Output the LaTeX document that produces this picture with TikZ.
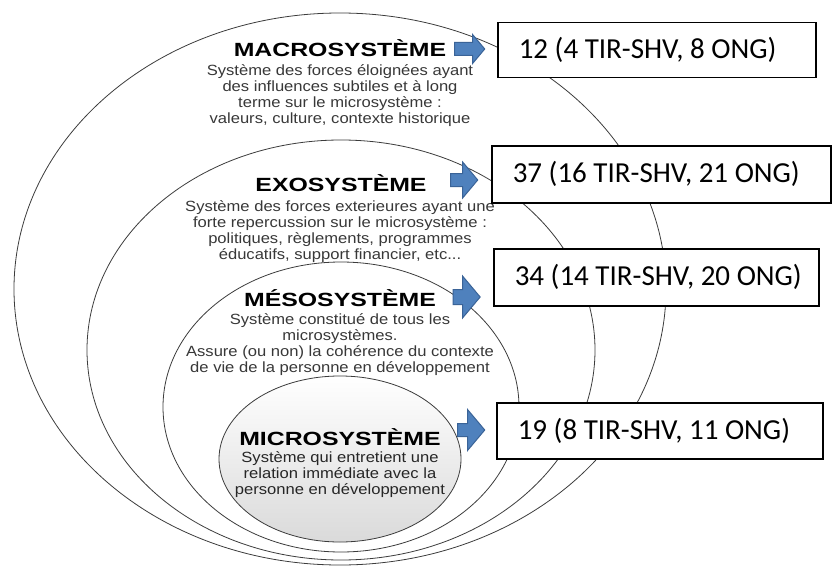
\documentclass[tikz,border=0pt]{standalone}
\usepackage{fontspec}
\setmainfont{Liberation Sans}
\newfontfamily\titlefont[FakeStretch=1.3]{Liberation Sans}
\newfontfamily\descfont[FakeStretch=1.12]{Liberation Sans}
\newfontfamily\countfont{Carlito}
\usetikzlibrary{shapes.geometric,shapes.arrows}

\definecolor{ringline}{HTML}{3C3C3C}
\definecolor{desctext}{HTML}{383838}
\definecolor{arrowfill}{HTML}{4F81BD}
\definecolor{arrowedge}{HTML}{3A6397}
\definecolor{microshade}{HTML}{DADADA}

% left-aligned line of fixed width inside a count box
\newcommand{\countline}[2]{\makebox[#1][l]{#2}}

\begin{document}
\begin{tikzpicture}[x=1pt,y=-1pt,
  ring/.style={ellipse, draw=ringline, line width=0.8pt, fill=white,
    inner sep=0pt, outer sep=0pt},
  leveltitle/.style={font=\titlefont\bfseries\fontsize{19.1}{20}\selectfont,
    text=black, inner sep=0pt},
  leveldesc/.style={font=\descfont\fontsize{14.8}{16}\selectfont,
    text=desctext, align=center, inner sep=0pt},
  countbox/.style={draw=black, line width=1.5pt, fill=white,
    font=\countfont\fontsize{29}{34}\selectfont, inner xsep=21pt,
    inner ysep=0pt, anchor=north west},
  blockarrow/.style={single arrow, draw=arrowedge, fill=arrowfill,
    line width=1pt, inner xsep=0pt, inner ysep=6pt, outer sep=0pt,
    single arrow tip angle=100}
]
\useasboundingbox (0,0) rectangle (832,567);

% nested system rings, outermost first
\node[ring, minimum width=652pt, minimum height=552pt] (macro) at (340,289) {};
\node[ring, minimum width=508pt, minimum height=420pt] (exo) at (341,350) {};
\node[ring, minimum width=356pt, minimum height=290pt] (meso) at (341,407) {};
\node[ring, minimum width=242pt, minimum height=166pt,
  top color=white, middle color=black!3, bottom color=microshade] (micro) at (340,459) {};

% level titles and descriptions
\node[leveltitle] (tmacro) at (340,48) {MACROSYSTÈME};
\node[leveldesc] (dmacro) at (340,96) {Système des forces éloignées ayant\\
  des influences subtiles et à long\\ terme sur le microsystème :\\
  valeurs, culture, contexte historique};

\node[leveltitle] (texo) at (341,183) {EXOSYSTÈME};
\node[leveldesc] (dexo) at (340,232) {Système des forces exterieures ayant une\\
  forte repercussion sur le microsystème :\\ politiques, règlements, programmes\\
  éducatifs, support financier, etc...};

\node[leveltitle] (tmeso) at (340,298) {MÉSOSYSTÈME};
\node[leveldesc] (dmeso) at (340,345) {Système constitué de tous les\\
  microsystèmes.\\ Assure (ou non) la cohérence du contexte\\
  de vie de la personne en développement};

\node[leveltitle] (tmicro) at (340,437) {MICROSYSTÈME};
\node[leveldesc, text=black!85] (dmicro) at (340,475) {Système qui entretient une\\
  relation immédiate avec la\\ personne en développement};

% block arrows
\node[blockarrow, minimum height=30pt, single arrow head extend=8pt]
  (amacro) at (467,49) {};
\node[blockarrow, minimum height=27pt, single arrow head extend=11.5pt]
  (aexo) at (461.5,180) {};
\node[blockarrow, minimum height=27pt, inner ysep=7pt, single arrow head extend=13.5pt]
  (ameso) at (463.5,297) {};
\node[blockarrow, minimum height=27pt, single arrow head extend=14pt]
  (amicro) at (468.5,430) {};

% count boxes
\node[countbox, minimum height=55pt] (cmacro) at (497,22)
  {\countline{276pt}{12 (4 TIR-SHV, 8 ONG)}};
\node[countbox, minimum height=57pt] (cexo) at (491,145)
  {\countline{297pt}{37 (16 TIR-SHV, 21 ONG)}};
\node[countbox, minimum height=57pt] (cmeso) at (493,248)
  {\countline{283pt}{34 (14 TIR-SHV, 20 ONG)}};
\node[countbox, minimum height=56pt] (cmicro) at (496,402)
  {\countline{284pt}{19 (8 TIR-SHV, 11 ONG)}};
\end{tikzpicture}
\end{document}
